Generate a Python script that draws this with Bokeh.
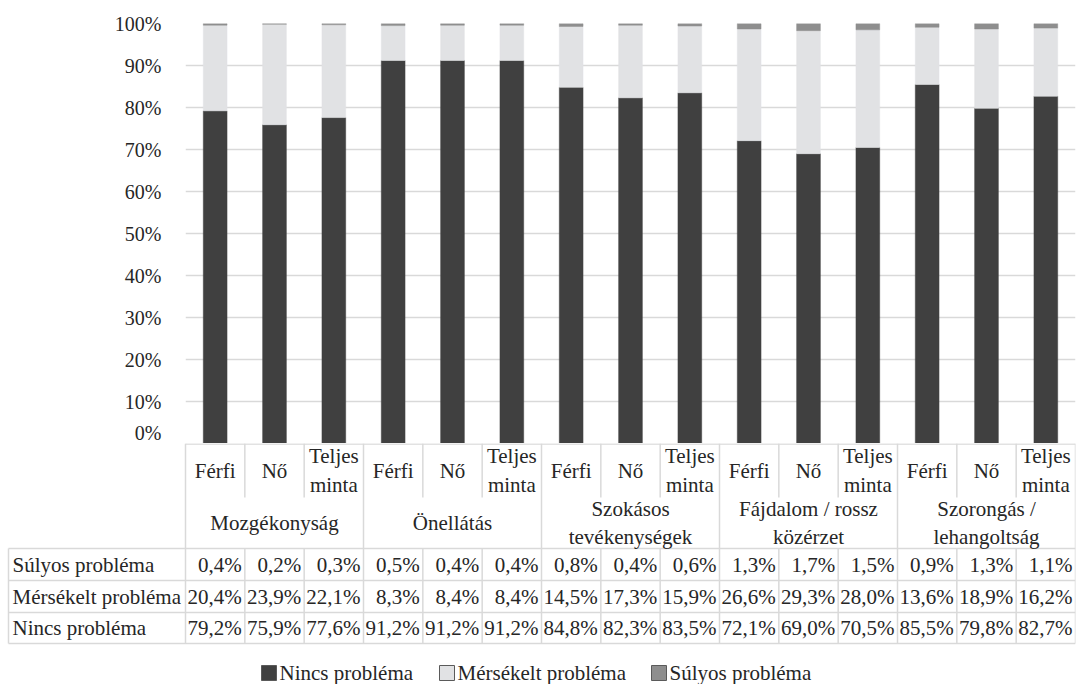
from bokeh.plotting import figure
from bokeh.models import Range1d, FixedTicker, NumeralTickFormatter, ColumnDataSource
from bokeh.layouts import column
from bokeh.embed import file_html
from bokeh.resources import INLINE
from bokeh.core.properties import value

# ---------------- data ----------------
groups = ["Mozgékonyság", "Önellátás", "Szokásos\ntevékenységek",
          "Fájdalom / rossz\nközérzet", "Szorongás /\nlehangoltság"]
subgroups = ["Férfi", "Nő", "Teljes\nminta"]
series = ["Nincs probléma", "Mérsékelt probléma", "Súlyos probléma"]
nincs = [79.2, 75.9, 77.6, 91.2, 91.2, 91.2, 84.8, 82.3, 83.5, 72.1, 69.0, 70.5, 85.5, 79.8, 82.7]
merse = [20.4, 23.9, 22.1, 8.3, 8.4, 8.4, 14.5, 17.3, 15.9, 26.6, 29.3, 28.0, 13.6, 18.9, 16.2]
sulyos = [0.4, 0.2, 0.3, 0.5, 0.4, 0.4, 0.8, 0.4, 0.6, 1.3, 1.7, 1.5, 0.9, 1.3, 1.1]
y_ticks = [0, 10, 20, 30, 40, 50, 60, 70, 80, 90, 100]

# ---------------- style ----------------
FONT = "Times New Roman"
TXT = "#262626"
GRID = "#d9d9d9"
colors = ["#404040", "#e1e2e4", "#8e8e8e"]

n_sub = len(subgroups)
n = len(groups) * n_sub
xs = [i + 0.5 for i in range(n)]
sub_labels = [subgroups[i % n_sub] for i in range(n)]

src = ColumnDataSource(dict(
    x=xs,
    nincs=[v / 100 for v in nincs],
    merse=[v / 100 for v in merse],
    sulyos=[v / 100 for v in sulyos],
))

W = 1076
LEFT = 185            # px left of the plot area
FRAME_W = W - LEFT - 1
UNIT = FRAME_W / n    # px per category

# ---------------- chart ----------------
p1 = figure(width=W, height=443, x_range=Range1d(0, n), y_range=Range1d(0, 1),
            output_backend="svg", toolbar_location=None,
            min_border_left=LEFT, min_border_right=1, min_border_top=23,
            min_border_bottom=0, frame_align=False)
p1.outline_line_color = None
p1.xaxis.visible = False
p1.vbar_stack(["nincs", "merse", "sulyos"], x="x", width=0.4,
              fill_color=colors, line_color=colors, line_width=0.5, source=src)
p1.xgrid.visible = False
p1.ygrid.ticker = FixedTicker(ticks=[t / 100 for t in y_ticks])
p1.ygrid.grid_line_color = GRID
p1.ygrid.grid_line_width = 1.5
ax = p1.yaxis[0]
ax.ticker = FixedTicker(ticks=[t / 100 for t in y_ticks])
ax.formatter = NumeralTickFormatter(format="0%")
ax.axis_line_color = None
ax.major_tick_line_color = None
ax.minor_tick_line_color = None
ax.major_label_standoff = 18
ax.major_label_text_font = FONT
ax.major_label_text_font_size = "20px"
ax.major_label_text_color = TXT

# ---------------- data table + legend ----------------
Y_TOP, Y_SUB, Y_GRP = 443, 497, 548
ROW_EDGES = [548, 580, 612, 643]
L = -LEFT / UNIT           # left edge of the canvas in category units
TL = L + 8 / UNIT          # left border of the table

p2 = figure(width=W, height=241, x_range=Range1d(L, n), y_range=Range1d(684, 443),
            output_backend="svg", toolbar_location=None,
            min_border_left=0, min_border_right=1, min_border_top=0,
            min_border_bottom=0, frame_align=False)
p2.outline_line_color = None
p2.xaxis.visible = False
p2.yaxis.visible = False
p2.grid.visible = False

# horizontal lines
hx0 = [0] + [TL] * len(ROW_EDGES)
hy = [Y_TOP + 0.5] + ROW_EDGES
p2.segment(x0=hx0, y0=hy, x1=[n] * len(hy), y1=hy, line_color=GRID, line_width=1.5)
# vertical lines
vx0, vy0, vy1 = [], [], []
for i in range(n + 1):
    if i % n_sub == 0:
        vx0.append(i); vy0.append(Y_TOP); vy1.append(ROW_EDGES[-1])
    else:
        vx0 += [i, i]; vy0 += [Y_TOP, Y_GRP]; vy1 += [Y_SUB, ROW_EDGES[-1]]
vx0.append(TL); vy0.append(Y_GRP); vy1.append(ROW_EDGES[-1])
p2.segment(x0=vx0, y0=vy0, x1=vx0, y1=vy1, line_color=GRID, line_width=1.5)


def txt(x, y, t, align, size="21px"):
    p2.text(x=x, y=y, text=t, text_align=align, text_baseline="middle",
            text_font=value(FONT), text_font_size=size, text_color=TXT)


# subgroup headers
txt(xs, [(Y_TOP + Y_SUB) / 2] * n, sub_labels, "center")
# group headers
txt([g * n_sub + n_sub / 2 for g in range(len(groups))],
    [(Y_SUB + Y_GRP) / 2] * len(groups), groups, "center")


def fmt(v):
    return f"{v:.1f}%".replace(".", ",")


rows = [("Súlyos probléma", sulyos), ("Mérsékelt probléma", merse), ("Nincs probléma", nincs)]
for r, (name, vals) in enumerate(rows):
    yc = (ROW_EDGES[r] + ROW_EDGES[r + 1]) / 2
    txt([TL + 4 / UNIT], [yc], [name], "left")
    txt([i + 1 - 3 / UNIT for i in range(n)], [yc] * n, [fmt(v) for v in vals], "right")

# legend (swatch + label per series)
LEG_X = [261, 439, 651]    # px, left edge of each swatch
LEG_Y = 672.5
leg_x = [(px + 7.5) / UNIT + L for px in LEG_X]
p2.rect(x=leg_x, y=[LEG_Y] * 3, width=15, height=15, width_units="screen",
        height_units="screen", fill_color=colors, line_color="#5a5a5a", line_width=1)
txt([(px + 18) / UNIT + L for px in LEG_X], [LEG_Y] * 3, series, "left")

layout = column(p1, p2)
open("out.html", "w").write(file_html(layout, INLINE))
